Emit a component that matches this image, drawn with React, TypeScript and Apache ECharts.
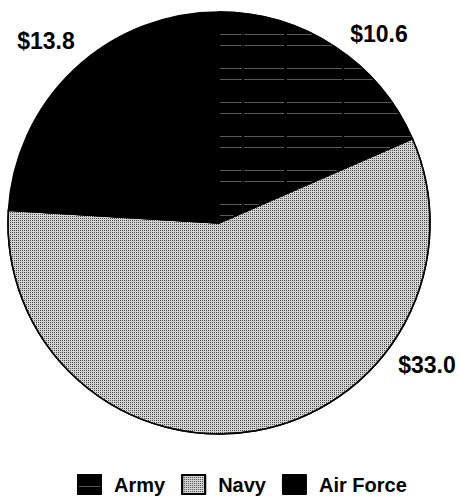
import React, { useEffect, useRef } from "react";
import * as echarts from "echarts";

const categories = ["Army", "Navy", "Air Force"];
const values = [10.6, 33.0, 13.8];
const valueLabels = ["$10.6", "$33.0", "$13.8"];

// label anchor positions (styling only)
const LABEL_POS: [number, number][] = [
  [379, 34],
  [427, 365],
  [46, 41],
];

const FONT = "'Liberation Sans', Arial, Helvetica, sans-serif";

export default function App() {
  const ref = useRef<HTMLDivElement>(null);
  useEffect(() => {
    document.body.style.margin = "0";
    if (!ref.current) return;
    const chart = echarts.init(ref.current, undefined, { renderer: "svg" });
    const styles = [
      {
        color: "#000",
        decal: {
          symbol: "rect",
          symbolSize: 1,
          color: "rgba(255,255,255,0.35)",
          dashArrayX: [[70, 2, 40, 3, 55, 2]],
          dashArrayY: [1, 10, 1, 22],
          rotation: 0,
        },
      },
      {
        color: "#d4d4d4",
        decal: {
          symbol: "rect",
          symbolSize: 1,
          color: "#4a4a4a",
          dashArrayX: [[1, 1]],
          dashArrayY: [1, 1],
          rotation: 0,
        },
      },
      { color: "#000" },
    ];
    chart.setOption({
      animation: false,
      backgroundColor: "#fff",
      legend: {
        left: 77,
        top: 474,
        itemWidth: 23,
        itemHeight: 19,
        itemGap: 16,
        icon: "rect",
        padding: 0,
        data: categories,
        textStyle: {
          fontFamily: FONT,
          fontWeight: "bold",
          fontSize: 20,
          lineHeight: 20,
          color: "#000",
          padding: [0, 0, 0, 8],
        },
      },
      series: [
        {
          type: "pie",
          center: [219, 223],
          radius: [0, 211],
          startAngle: 90,
          clockwise: true,
          silent: true,
          itemStyle: { borderColor: "#000", borderWidth: 1.5 },
          label: {
            show: true,
            position: "outside",
            alignTo: "none",
            overflow: "none",
            formatter: (p: any) => valueLabels[p.dataIndex],
            fontFamily: FONT,
            fontWeight: "bold",
            fontSize: 23,
            color: "#000",
          },
          labelLine: { show: false },
          labelLayout: (p: any) => ({
            x: LABEL_POS[p.dataIndex][0],
            y: LABEL_POS[p.dataIndex][1],
            align: "center",
            verticalAlign: "middle",
          }),
          data: categories.map((name, i) => ({
            name,
            value: values[i],
            itemStyle: styles[i],
          })),
        },
      ],
    });
    return () => chart.dispose();
  }, []);
  return <div ref={ref} style={{ width: 459, height: 497 }} />;
}
